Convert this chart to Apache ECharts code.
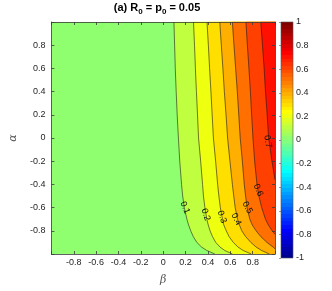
<!DOCTYPE html>
<html><head><meta charset="utf-8">
<script src="https://cdn.jsdelivr.net/npm/echarts@6/dist/echarts.min.js"></script>
<style>html,body{margin:0;padding:0;background:#fff}#c{width:332px;height:291px}</style>
</head><body><div id="c"></div>
<script>
// ---- data ----
const levels = [0.1, 0.2, 0.3, 0.4, 0.5, 0.6, 0.7];
const baseLevel = 0;
const axisMin = -1, axisMax = 1;
const cbMin = -1, cbMax = 1;
const tickLabels = [-0.8, -0.6, -0.4, -0.2, 0, 0.2, 0.4, 0.6, 0.8];
const cbTickLabels = [-1, -0.8, -0.6, -0.4, -0.2, 0, 0.2, 0.4, 0.6, 0.8, 1];

const alphaA = [1, 0.8, 0.6, 0.4, 0.2, 0, -0.2, -0.4, -0.5, -0.6, -0.7, -0.75, -0.8, -0.85, -0.9, -0.94, -0.97, -1];
const beta01 = [0.096, 0.102, 0.108, 0.116, 0.125, 0.136, 0.148, 0.164, 0.174, 0.189, 0.212, 0.227, 0.246, 0.269, 0.301, 0.343, 0.390, 0.462];
const beta02 = [0.271, 0.280, 0.288, 0.297, 0.307, 0.316, 0.335, 0.352, 0.360, 0.373, 0.390, 0.403, 0.419, 0.441, 0.470, 0.508, 0.551, 0.619];
const beta03 = [0.392, 0.404, 0.415, 0.427, 0.438, 0.449, 0.469, 0.487, 0.498, 0.511, 0.530, 0.542, 0.564, 0.589, 0.627, 0.669, 0.716, 0.788];
const beta04 = [0.506, 0.520, 0.534, 0.547, 0.562, 0.576, 0.597, 0.619, 0.631, 0.644, 0.665, 0.682, 0.703, 0.737, 0.784, 0.831, 0.881, 0.949];
const alpha05 = [1, 0.8, 0.6, 0.4, 0.2, 0, -0.2, -0.4, -0.5, -0.6, -0.7, -0.75, -0.8, -0.85, -0.9, -0.94, -0.955];
const beta05 = [0.619, 0.633, 0.648, 0.663, 0.676, 0.689, 0.708, 0.725, 0.737, 0.750, 0.775, 0.797, 0.831, 0.873, 0.928, 0.983, 1.0];
const alpha06 = [1, 0.8, 0.6, 0.4, 0.2, 0, -0.2, -0.4, -0.5, -0.6, -0.7, -0.75, -0.8, -0.83];
const beta06 = [0.740, 0.753, 0.767, 0.780, 0.791, 0.803, 0.818, 0.839, 0.856, 0.881, 0.915, 0.941, 0.975, 1.0];
const alpha07 = [1, 0.8, 0.6, 0.4, 0.2, 0, -0.1, -0.2, -0.3, -0.36];
const beta07 = [0.873, 0.888, 0.903, 0.915, 0.930, 0.943, 0.958, 0.973, 0.990, 1.0];

const labelText  = ['0.1', '0.2', '0.3', '0.4', '0.5', '0.6', '0.7'];
const labelBeta  = [0.195, 0.381, 0.525, 0.653, 0.752, 0.850, 0.935];
const labelAlpha = [-0.60, -0.66, -0.68, -0.70, -0.60, -0.45, -0.03];
const labelAngle = [-68, -72, -70, -63, -62, -68, -80];

const contours = [
  { level: levels[0], alpha: alphaA, beta: beta01 },
  { level: levels[1], alpha: alphaA, beta: beta02 },
  { level: levels[2], alpha: alphaA, beta: beta03 },
  { level: levels[3], alpha: alphaA, beta: beta04 },
  { level: levels[4], alpha: alpha05, beta: beta05 },
  { level: levels[5], alpha: alpha06, beta: beta06 },
  { level: levels[6], alpha: alpha07, beta: beta07 }
];

// MATLAB jet(64) colormap
function jetRow(j) {
  const u = k => (k < 1 || k > 47) ? 0 : (k <= 16 ? k / 16 : (k <= 31 ? 1 : (48 - k) / 16));
  const r = u(j - 24), g = u(j - 8), b = u(j + 8);
  return 'rgb(' + Math.round(r * 255) + ',' + Math.round(g * 255) + ',' + Math.round(b * 255) + ')';
}
function jet(v) {
  const j = Math.max(1, Math.min(64, Math.floor((v - cbMin) / (cbMax - cbMin) * 64 + 1e-9) + 1));
  return jetRow(j);
}

const FONT = '"Liberation Sans", Arial, Helvetica, sans-serif';
const AX = '#3a3a3a';
const fmt = v => {
  const r = Math.round(v * 10) / 10;
  return tickLabels.some(t => Math.abs(t - r) < 1e-6) ? (r === 0 ? '0' : r.toFixed(1)) : '';
};
const cbFmt = v => {
  const r = Math.round(v * 10) / 10;
  if (!cbTickLabels.some(t => Math.abs(t - r) < 1e-6)) return '';
  if (r === 0) return '0';
  if (Math.abs(r) === 1) return String(r);
  return r.toFixed(1);
};

const axisCommon = {
  type: 'value', min: axisMin, max: axisMax, interval: 0.2, z: 10,
  axisLine: { show: true, onZero: false, lineStyle: { color: AX, width: 0.8 } },
  axisTick: { show: true, inside: true, length: 3, lineStyle: { color: AX, width: 0.8 } },
  splitLine: { show: false },
  axisLabel: { show: true, formatter: fmt, fontSize: 9, color: '#262626', fontFamily: FONT }
};

const series = [];
// base region + filled bands
series.push({
  type: 'custom', xAxisIndex: 0, yAxisIndex: 0, silent: true, z: 1,
  data: [[axisMin, axisMin, axisMax, axisMax]],
  renderItem: (params, api) => {
    const p0 = api.coord([api.value(0), api.value(3)]);
    const p1 = api.coord([api.value(2), api.value(1)]);
    return { type: 'rect', shape: { x: p0[0], y: p0[1], width: p1[0] - p0[0], height: p1[1] - p0[1] },
      style: { fill: jet(baseLevel) } };
  }
});
series.push({
  type: 'custom', xAxisIndex: 0, yAxisIndex: 0, silent: true, z: 2,
  data: contours.map((c, i) => [i]),
  renderItem: (params, api) => {
    const c = contours[api.value(0)];
    const pts = c.beta.map((b, k) => api.coord([b, c.alpha[k]]));
    pts.push(api.coord([axisMax, c.alpha[c.alpha.length - 1]]));
    pts.push(api.coord([axisMax, axisMax]));
    return { type: 'polygon', shape: { points: pts }, style: { fill: jet(c.level), stroke: jet(c.level), lineWidth: 0.3 } };
  }
});
// contour lines
contours.forEach(c => {
  series.push({
    type: 'line', xAxisIndex: 0, yAxisIndex: 0, silent: true, z: 3,
    showSymbol: false, symbol: 'none', animation: false,
    data: c.beta.map((b, k) => [b, c.alpha[k]]),
    lineStyle: { color: '#1e1e1e', width: 0.6 }
  });
});
// contour labels
series.push({
  type: 'custom', xAxisIndex: 0, yAxisIndex: 0, silent: true, z: 4,
  data: labelText.map((t, i) => [labelBeta[i], labelAlpha[i], i]),
  renderItem: (params, api) => {
    const p = api.coord([api.value(0), api.value(1)]);
    const i = api.value(2);
    return { type: 'text', x: p[0], y: p[1], rotation: labelAngle[i] * Math.PI / 180,
      style: { text: labelText[i], fontSize: 9, fill: '#111', fontFamily: FONT, align: 'center', verticalAlign: 'middle' } };
  }
});
// colorbar
const stops = [];
for (let j = 1; j <= 64; j++) {
  stops.push({ offset: (j - 1) / 64, color: jetRow(j) });
  stops.push({ offset: j / 64, color: jetRow(j) });
}
series.push({
  type: 'custom', xAxisIndex: 2, yAxisIndex: 2, silent: true, z: 2,
  data: [[0, cbMin, 1, cbMax]],
  renderItem: (params, api) => {
    const p0 = api.coord([api.value(0), api.value(3)]);
    const p1 = api.coord([api.value(2), api.value(1)]);
    return { type: 'rect', shape: { x: p0[0], y: p0[1], width: p1[0] - p0[0], height: p1[1] - p0[1] },
      style: { fill: { type: 'linear', x: 0, y: 1, x2: 0, y2: 0, colorStops: stops }, stroke: '#555', lineWidth: 0.6 } };
  }
});

const chart = echarts.init(document.getElementById('c'), null, { renderer: 'canvas' });
chart.setOption({
  animation: false,
  backgroundColor: '#fff',
  textStyle: { fontFamily: FONT },
  graphic: [{
    type: 'text', x: 157, y: 8,
    style: {
      text: '{b|(a) R}{s|0}{b| = p}{s|0}{b| = 0.05}',
      align: 'center', verticalAlign: 'middle',
      rich: {
        b: { fontSize: 11, fontWeight: 'bold', fill: '#000', fontFamily: FONT },
        s: { fontSize: 8, fontWeight: 'bold', fill: '#000', fontFamily: FONT, padding: [7, 0, 0, 0] }
      }
    }
  }],
  grid: [
    { left: 39, top: 22, width: 236, height: 237 },
    { left: 281, top: 22, width: 12, height: 236 }
  ],
  xAxis: [
    Object.assign({}, axisCommon, { gridIndex: 0, position: 'bottom',
      axisLabel: Object.assign({}, axisCommon.axisLabel, { margin: 4 }),
      name: 'β', nameLocation: 'middle', nameGap: 21,
      nameTextStyle: { fontSize: 11, fontStyle: 'italic', color: '#555', fontFamily: '"DejaVu Serif", serif' } }),
    Object.assign({}, axisCommon, { gridIndex: 0, position: 'top', axisLabel: { show: false } }),
    { type: 'value', gridIndex: 1, min: 0, max: 1, show: false }
  ],
  yAxis: [
    Object.assign({}, axisCommon, { gridIndex: 0, position: 'left',
      axisLabel: Object.assign({}, axisCommon.axisLabel, { margin: 6 }),
      name: 'α', nameLocation: 'middle', nameGap: 27, nameRotate: 90,
      nameTextStyle: { fontSize: 11, fontStyle: 'italic', color: '#555', fontFamily: '"DejaVu Serif", serif' } }),
    Object.assign({}, axisCommon, { gridIndex: 0, position: 'right', axisLabel: { show: false } }),
    { type: 'value', gridIndex: 1, min: cbMin, max: cbMax, interval: 0.2, position: 'right', z: 10,
      axisLine: { show: false },
      axisTick: { show: true, inside: true, length: 2, lineStyle: { color: '#555', width: 0.6 } },
      splitLine: { show: false },
      axisLabel: { formatter: cbFmt, fontSize: 9, color: '#262626', margin: 3, fontFamily: FONT } }
  ],
  series: series
});
</script>
</body></html>
